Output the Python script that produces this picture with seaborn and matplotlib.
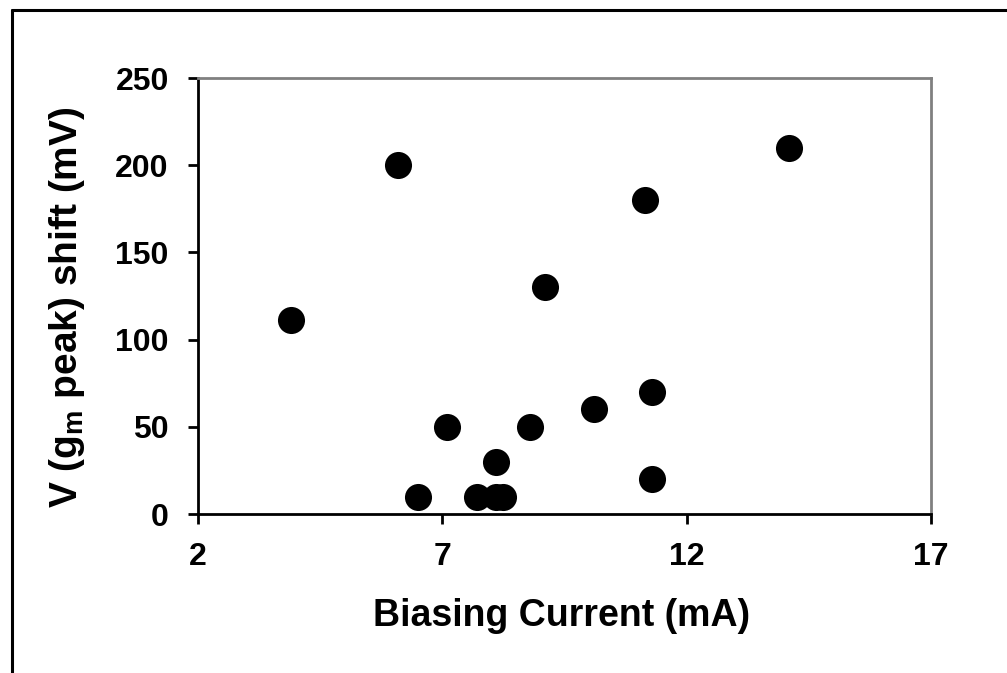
import matplotlib
matplotlib.use("Agg")
import matplotlib.pyplot as plt
from matplotlib.lines import Line2D
import seaborn as sns
import pandas as pd

current_mA = [3.9, 6.1, 6.5, 7.1, 7.7, 8.1, 8.1, 8.25, 8.8, 9.1, 10.1, 11.15, 11.3, 11.3, 14.1]
shift_mV = [111, 200, 10, 50, 10, 30, 10, 10, 50, 130, 60, 180, 70, 20, 210]
x_ticks = [2, 7, 12, 17]
y_ticks = [0, 50, 100, 150, 200, 250]

sns.set_style("white")
plt.rcParams['font.family'] = ['Liberation Sans', 'DejaVu Sans']
plt.rcParams['font.weight'] = 'bold'
plt.rcParams['text.color'] = 'black'
plt.rcParams['axes.labelcolor'] = 'black'
plt.rcParams['xtick.color'] = 'black'
plt.rcParams['ytick.color'] = 'black'
plt.rcParams['mathtext.fontset'] = 'custom'
plt.rcParams['mathtext.rm'] = 'Liberation Sans:bold'
plt.rcParams['mathtext.it'] = 'Liberation Sans:bold'
plt.rcParams['mathtext.bf'] = 'Liberation Sans:bold'

df = pd.DataFrame({"current": current_mA, "shift": shift_mV})

fig = plt.figure(figsize=(10.07, 6.73), dpi=100)
ax = fig.add_axes([198/1007, 1-514/673, (931-198)/1007, (514-78)/673])

sns.scatterplot(data=df, x="current", y="shift", ax=ax, color="black",
                s=380, linewidth=0, legend=False)

ax.set_xlim(2, 17)
ax.set_ylim(0, 250)
ax.set_xticks(x_ticks)
ax.set_yticks(y_ticks)
ax.set_xticklabels([str(v) for v in x_ticks], fontsize=23, fontweight='bold')
ax.set_yticklabels([str(v) for v in y_ticks], fontsize=23, fontweight='bold')
ax.tick_params(axis='both', direction='out', length=7, width=2, color='black',
               left=True, bottom=True)
ax.tick_params(axis='y', pad=14)
ax.tick_params(axis='x', pad=13)

for side in ['left', 'bottom']:
    ax.spines[side].set_color('black')
    ax.spines[side].set_linewidth(2)
for side in ['top', 'right']:
    ax.spines[side].set_visible(True)
    ax.spines[side].set_color('#808080')
    ax.spines[side].set_linewidth(2)

ax.set_xlabel("Biasing Current (mA)", fontsize=27, fontweight='bold')
ax.set_ylabel("V (g$_{m}$ peak) shift (mV)", fontsize=28, fontweight='bold')
ax.xaxis.set_label_coords((562-198)/733, (514-598)/436)
ax.yaxis.set_label_coords((87-198)/733, (514-307)/436)

# figure frame (left and top edges)
fig.add_artist(Line2D([12/1007, 12/1007], [0, 1-10/673], color='black', lw=2.2,
                      transform=fig.transFigure))
fig.add_artist(Line2D([12/1007, 1], [1-10/673, 1-10/673], color='black', lw=2.2,
                      transform=fig.transFigure))

fig.savefig("out.png", dpi=100)
